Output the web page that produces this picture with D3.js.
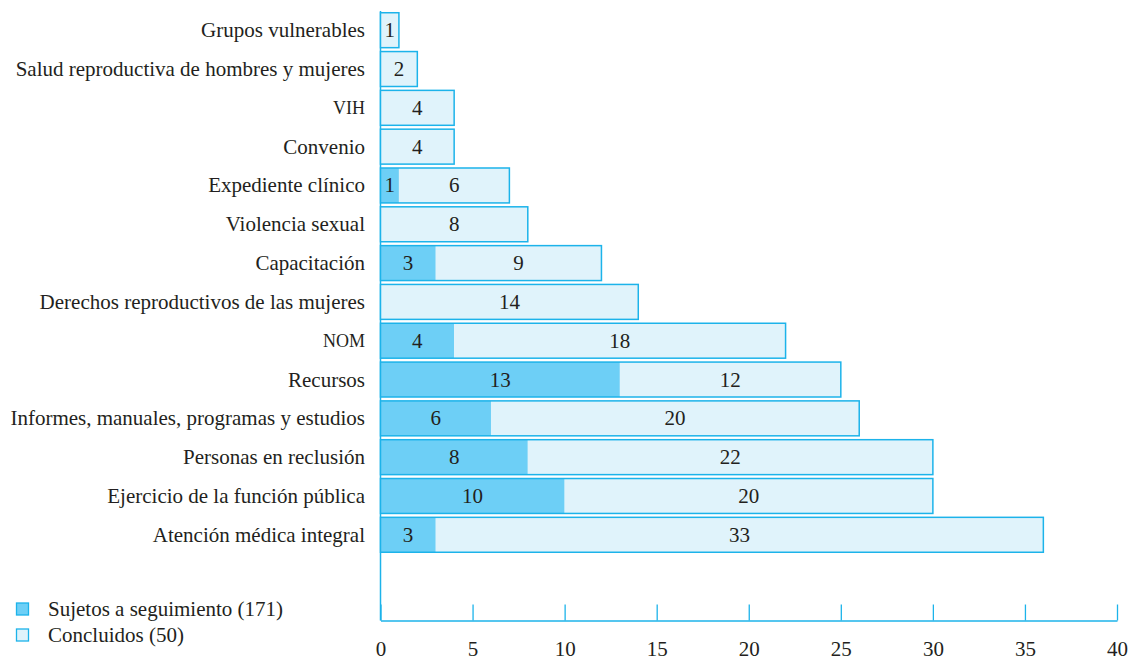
<!DOCTYPE html>
<html>
<head>
<meta charset="utf-8">
<script src="https://cdn.jsdelivr.net/npm/d3@7"></script>
<style>
  html, body { margin: 0; padding: 0; background: #ffffff; }
  svg { display: block; }
</style>
</head>
<body>
<svg id="chart" width="1131" height="660"></svg>
<script>
// Categories, top to bottom
const categories = [
  "Grupos vulnerables",
  "Salud reproductiva de hombres y mujeres",
  "VIH",
  "Convenio",
  "Expediente clínico",
  "Violencia sexual",
  "Capacitación",
  "Derechos reproductivos de las mujeres",
  "NOM",
  "Recursos",
  "Informes, manuales, programas y estudios",
  "Personas en reclusión",
  "Ejercicio de la función pública",
  "Atención médica integral"
];
// Sujetos a seguimiento (darker segment)
const seguimiento = [0, 0, 0, 0, 1, 0, 3, 0, 4, 13, 6, 8, 10, 3];
// Concluidos (lighter segment)
const concluidos  = [1, 2, 4, 4, 6, 8, 9, 14, 18, 12, 20, 22, 20, 33];
const xTicks = [0, 5, 10, 15, 20, 25, 30, 35, 40];
const legendLabels = ["Sujetos a seguimiento (171)", "Concluidos (50)"];

const FONT = '"Liberation Serif"';
const FS = "21px";
const TXT = "#231f20";
const colDark = "#6dcff6";
const colLight = "#e0f3fb";
const colStroke = "#1cb3ea";

const svg = d3.select("#chart");

const x = d3.scaleLinear().domain([0, 40]).range([380.5, 1117]);
const y = d3.scaleBand().domain(categories).range([10.8, 554.2]).paddingInner(0.1).paddingOuter(0.05);

// Vertical baseline
svg.append("line")
  .attr("x1", x(0)).attr("x2", x(0))
  .attr("y1", 11).attr("y2", 620.5)
  .attr("stroke", colStroke).attr("stroke-width", 1.5);

// Bottom axis with ticks pointing up
const axisG = svg.append("g").attr("transform", "translate(0,620.5)");
axisG.call(d3.axisBottom(x).tickValues(xTicks).tickSizeInner(-16).tickSizeOuter(0).tickPadding(0));
axisG.select(".domain").attr("stroke", colStroke).attr("stroke-width", 1.5);
axisG.selectAll(".tick line").attr("stroke", colStroke).attr("stroke-width", 1.3);
axisG.selectAll(".tick text")
  .attr("y", 35).attr("dy", null)
  .attr("fill", TXT)
  .style("font-family", FONT)
  .style("font-size", FS);

// Bars
const rows = categories.map((c, i) => ({ c, s: seguimiento[i], k: concluidos[i] }));
const g = svg.append("g");
rows.forEach(r => {
  const y0 = y(r.c), h = y.bandwidth();
  const segs = [];
  if (r.s > 0) segs.push({ a: 0, b: r.s, fill: colDark, v: r.s });
  segs.push({ a: r.s, b: r.s + r.k, fill: colLight, v: r.k });
  segs.forEach(sg => {
    g.append("rect")
      .attr("x", x(sg.a)).attr("y", y0)
      .attr("width", x(sg.b) - x(sg.a)).attr("height", h)
      .attr("fill", sg.fill);
  });
  // outline of the whole bar
  g.append("rect")
    .attr("x", x(0)).attr("y", y0)
    .attr("width", x(r.s + r.k) - x(0)).attr("height", h)
    .attr("fill", "none").attr("stroke", colStroke).attr("stroke-width", 1.5);
  segs.forEach(sg => {
    g.append("text")
      .attr("x", (x(sg.a) + x(sg.b)) / 2)
      .attr("y", y0 + h / 2 + 7)
      .attr("text-anchor", "middle")
      .attr("fill", TXT)
      .style("font-family", FONT)
      .style("font-size", FS)
      .text(sg.v);
  });
  // category label
  const small = (r.c === "VIH" || r.c === "NOM");
  g.append("text")
    .attr("x", 365)
    .attr("y", y0 + h / 2 + (small ? 6 : 7))
    .attr("text-anchor", "end")
    .attr("fill", TXT)
    .style("font-family", FONT)
    .style("font-size", small ? "18px" : FS)
    .text(r.c);
});

// Legend
const legend = svg.append("g");
[colDark, colLight].forEach((col, i) => {
  const ly = 603 + i * 26;
  legend.append("rect")
    .attr("x", 16.5).attr("y", ly).attr("width", 12).attr("height", 12)
    .attr("fill", col).attr("stroke", colStroke).attr("stroke-width", 1.3);
  legend.append("text")
    .attr("x", 48).attr("y", ly + 13)
    .attr("fill", TXT)
    .style("font-family", FONT)
    .style("font-size", FS)
    .text(legendLabels[i]);
});
</script>
</body>
</html>
